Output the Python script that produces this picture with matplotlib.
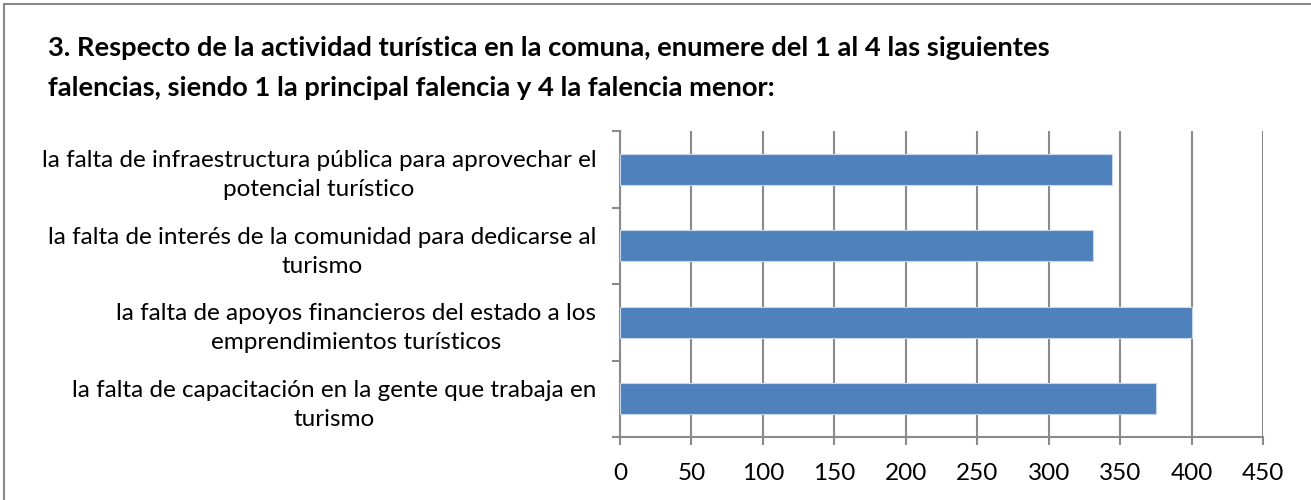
import numpy as np
import matplotlib
matplotlib.use('Agg')
import matplotlib.pyplot as plt
from matplotlib.patches import Rectangle

plt.rcParams['font.family'] = ['Lato', 'DejaVu Sans']

# datos del grafico
titulo = [
    "3. Respecto de la actividad turística en la comuna, enumere del 1 al 4 las siguientes",
    "falencias, siendo 1 la principal falencia y 4 la falencia menor:",
]
categorias = [
    "la falta de infraestructura pública para aprovechar el\npotencial turístico",
    "la falta de interés de la comunidad para dedicarse al\nturismo",
    "la falta de apoyos financieros del estado a los\nemprendimientos turísticos",
    "la falta de capacitación en la gente que trabaja en\nturismo",
]
valores = [344, 331, 400, 375]
ticks_x = [0, 50, 100, 150, 200, 250, 300, 350, 400, 450]

gris = '#8a8a8a'
azul = '#4F81BD'

W, H = 1311, 500
fig = plt.figure(figsize=(W / 100, H / 100), dpi=100)

# marco exterior
fig.patches.append(Rectangle((4 / W, -0.1), 1.2, 1 - 4 / H + 0.1, transform=fig.transFigure,
                             fill=False, edgecolor=gris, linewidth=1.5))

for i, linea in enumerate(titulo):
    fig.text(48 / W, 1 - (48 + 40 * i) / H, linea, fontsize=19.7, fontweight='bold',
             ha='left', va='center', color='black')

ax = fig.add_axes([620 / W, 1 - 437 / H, (1263 - 620) / W, (437 - 131) / H])
y = np.arange(len(categorias))
ax.barh(y, valores, height=0.4, color=azul, edgecolor='#c9d7ea', linewidth=0.8, zorder=3)

ax.set_xlim(0, 450)
ax.set_ylim(3.5, -0.5)
ax.set_xticks(ticks_x)
ax.set_xticklabels([str(t) for t in ticks_x], fontsize=17.5)
ax.set_yticks(y)
ax.set_yticklabels(categorias, fontsize=17.5, multialignment='center', linespacing=1.48)
ax.set_yticks(np.arange(-0.5, 4, 1), minor=True)

ax.grid(axis='x', color=gris, linewidth=1.5, zorder=0)
for s in ['top', 'right']:
    ax.spines[s].set_visible(False)
for s in ['left', 'bottom']:
    ax.spines[s].set_color(gris)
    ax.spines[s].set_linewidth(1.5)

ax.tick_params(axis='y', which='major', length=0, pad=17)
ax.tick_params(axis='y', which='minor', length=6, width=1.5, color=gris)
ax.tick_params(axis='x', length=6, width=1.5, color=gris, pad=13)

fig.savefig('out.png', dpi=100)
